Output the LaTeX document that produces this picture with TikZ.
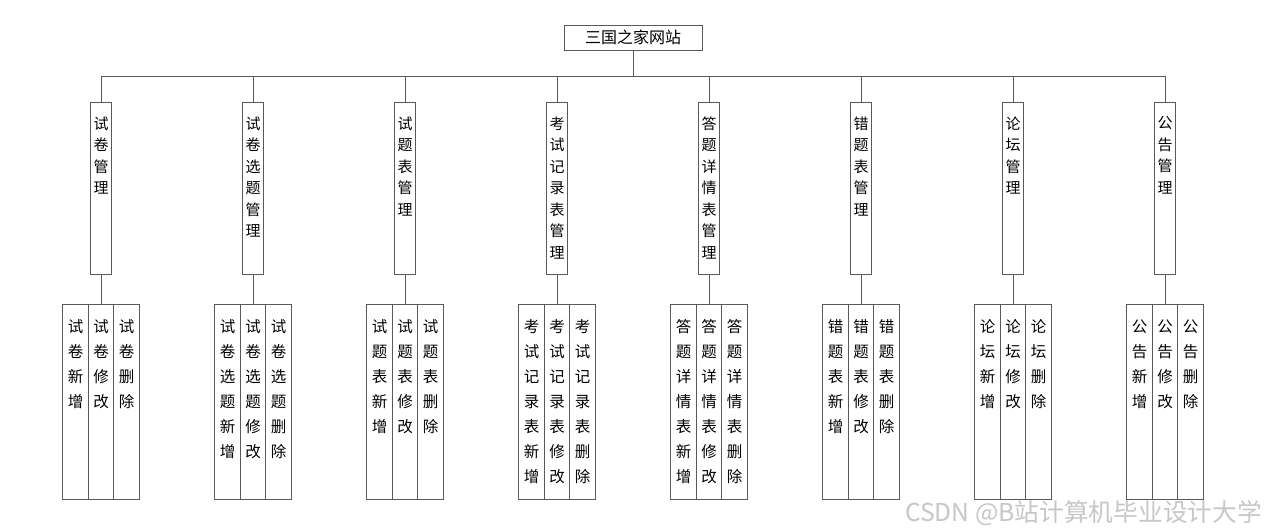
\documentclass[tikz,border=0pt]{standalone}
\usepackage{fontspec}
\newfontfamily\cjk{Noto Sans CJK SC}
\begin{document}
\begin{tikzpicture}[x=1pt,y=-1pt,
  box/.style={draw=black!65, line width=0.7pt, rectangle, inner sep=0pt},
  modbox/.style={box, minimum width=21pt, minimum height=172pt},
  leafbox/.style={box, minimum width=25.5pt, minimum height=195pt},
  modtext/.style={anchor=north, align=center, inner sep=0pt, font=\cjk\fontsize{15}{21.5}\selectfont},
  leaftext/.style={anchor=north, align=center, inner sep=0pt, font=\cjk\fontsize{15.5}{25}\selectfont},
  link/.style={draw=black!65, line width=0.7pt}]
\useasboundingbox (0,0) rectangle (1266,532);
\fill[white] (0,0) rectangle (1266,532);
\node[box, minimum width=138pt, minimum height=25pt, font=\cjk\fontsize{16}{16}\selectfont] (root) at (633,37.5) {三国之家网站};
\coordinate (bus) at (633,76);
\draw[link] (root.south) -- (bus);
\foreach \i/\x/\p/\m in {
  1/101/{试\\卷}/{试\\卷\\管\\理},
  2/253/{试\\卷\\选\\题}/{试\\卷\\选\\题\\管\\理},
  3/405/{试\\题\\表}/{试\\题\\表\\管\\理},
  4/557/{考\\试\\记\\录\\表}/{考\\试\\记\\录\\表\\管\\理},
  5/709/{答\\题\\详\\情\\表}/{答\\题\\详\\情\\表\\管\\理},
  6/861/{错\\题\\表}/{错\\题\\表\\管\\理},
  7/1013/{论\\坛}/{论\\坛\\管\\理},
  8/1165/{公\\告}/{公\\告\\管\\理}} {
  \node[modbox] (m\i) at (\x,188) {};
  \node[modtext] (mt\i) at (\x,116.5) {\m};
  \draw[link] (bus) -| (m\i.north);
  \node[leafbox] (l\i-a) at (\x-25.5,401.5) {};
  \node[leafbox] (l\i-b) at (\x,401.5) {};
  \node[leafbox] (l\i-c) at (\x+25.5,401.5) {};
  \node[leaftext] (lt\i-a) at (\x-25.5,319.5) {\p\\新\\增};
  \node[leaftext] (lt\i-b) at (\x,319.5) {\p\\修\\改};
  \node[leaftext] (lt\i-c) at (\x+25.5,319.5) {\p\\删\\除};
  \draw[link] (m\i.south) -- (l\i-b.north);
}
\node[anchor=east, text=black!22, font=\cjk\fontsize{24.7}{24.7}\selectfont, inner sep=0pt] (wm) at (1262,513) {CSDN @B站计算机毕业设计大学};
\end{tikzpicture}
\end{document}
